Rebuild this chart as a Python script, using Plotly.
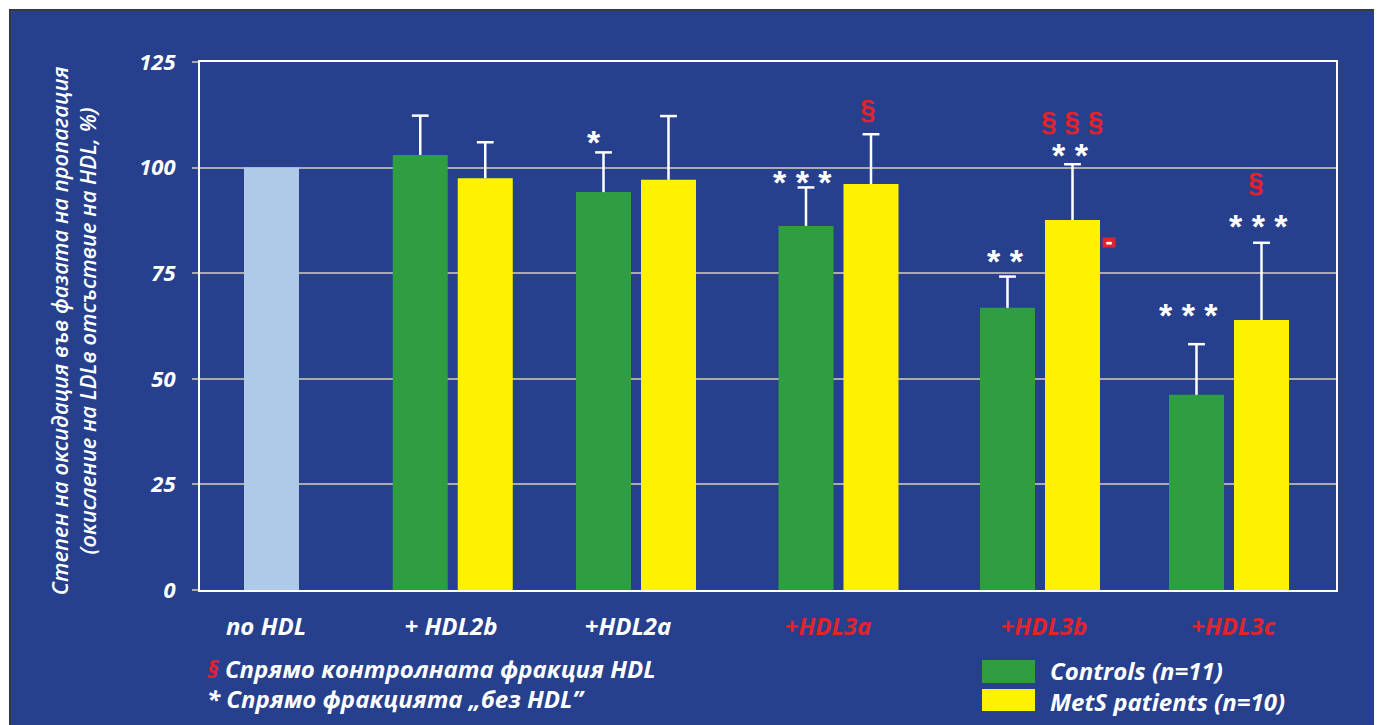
import plotly.graph_objects as go

# ---- data ----
categories = ["no HDL", "+ HDL2b", "+HDL2a", "+HDL3a", "+HDL3b", "+HDL3c"]
no_hdl_value = 100
controls_mean = [103.0, 94.2, 86.2, 66.8, 46.2]
controls_err = [9.3, 9.4, 9.1, 7.4, 12.0]
mets_mean = [97.5, 97.1, 96.1, 87.6, 63.9]
mets_err = [8.5, 15.1, 11.8, 13.2, 18.3]
y_ticks = [0, 25, 50, 75, 100, 125]

# significance marks per HDL fraction (controls / MetS / vs control fraction)
marks_controls = ["", "*", "* * *", "* *", "* * *"]
marks_mets = ["", "", "", "* *", "* * *"]
marks_section = ["", "", "§", "§ § §", "§"]

# ---- layout (positions / styles) ----
group_pos = [71.5, 252.75, 436.0, 638.5, 840.0, 1029.0]   # x positions on pixel-like axis
label_pos = [66.0, 251.0, 428.0, 628.0, 844.0, 1033.0]
pair_off = 32.5
bar_w = 55
BLUE = "#26408E"
GREEN = "#2F9E41"
YELLOW = "#FFF200"
LIGHT = "#AECAE8"
RED = "#E3232B"
GRID = "#ABABAB"
FONT = "Open Sans"
PAGE = 8  # browser body margin

ctrl_x = [p - pair_off for p in group_pos[1:]]
mets_x = [p + pair_off for p in group_pos[1:]]

fig = go.Figure()
fig.add_trace(go.Bar(x=[group_pos[0]], y=[no_hdl_value], width=bar_w,
                     marker=dict(color=LIGHT, line=dict(width=0)), showlegend=False))
fig.add_trace(go.Bar(x=ctrl_x, y=controls_mean, width=bar_w, name="Controls (n=11)",
                     marker=dict(color=GREEN, line=dict(width=0)), showlegend=False))
fig.add_trace(go.Bar(x=mets_x, y=mets_mean, width=bar_w, name="MetS patients (n=10)",
                     marker=dict(color=YELLOW, line=dict(width=0)), showlegend=False))

# one-sided error bars: stems (no caps) + top caps
for xs, means, errs in [(ctrl_x, controls_mean, controls_err), (mets_x, mets_mean, mets_err)]:
    fig.add_trace(go.Scatter(x=xs, y=means, mode="markers",
                             marker=dict(size=1, color="rgba(0,0,0,0)"),
                             error_y=dict(type="data", symmetric=False, array=errs,
                                          arrayminus=[0] * len(errs), color="white",
                                          thickness=2.5, width=0),
                             showlegend=False, hoverinfo="skip"))
    fig.add_trace(go.Scatter(x=xs, y=[m + e for m, e in zip(means, errs)], mode="markers",
                             marker=dict(symbol="line-ew", size=12,
                                         line=dict(color="white", width=2.5)),
                             showlegend=False, hoverinfo="skip"))

red_groups = {3, 4, 5}
ticktext = [f"<span style='color:{RED}'>{c}</span>" if i in red_groups else c
            for i, c in enumerate(categories)]

fig.update_layout(
    width=1382 - PAGE, height=725 - PAGE,
    margin=dict(l=200 - PAGE, r=46, t=62 - PAGE, b=135),
    paper_bgcolor="white",
    plot_bgcolor="rgba(0,0,0,0)",
    barmode="overlay",
    font=dict(family=FONT, color="white"),
    xaxis=dict(range=[0, 1136], tickvals=label_pos, ticktext=ticktext,
               showgrid=False, zeroline=False, showline=True, linecolor="white",
               linewidth=2, mirror=True, ticks="outside", ticklen=14,
               tickcolor="rgba(0,0,0,0)",
               tickfont=dict(family=FONT, size=24, color="white", style="italic", weight="bold")),
    yaxis=dict(range=[0, 125], tickvals=y_ticks, showgrid=True, gridcolor=GRID,
               gridwidth=2, zeroline=False, showline=True, linecolor="white",
               linewidth=2, mirror=True, ticks="outside", ticklen=6, tickwidth=2,
               tickcolor=GRID, ticklabelstandoff=12,
               tickfont=dict(family=FONT, size=22, color="white", style="italic", weight="bold")),
)

# outer blue panel
fig.add_shape(type="rect", xref="paper", yref="paper", layer="below",
              x0=(10 - 200) / 1136, x1=1.06, y0=-0.27, y1=(590 - 10) / 528,
              fillcolor=BLUE, line=dict(color="#3A3A3A", width=2))

# y-axis title
fig.add_annotation(xref="paper", yref="paper", x=(73 - 200) / 1136, y=0.49,
                   text="Степен на оксидация във фазата на пропагация<br>(окисление на LDLв отсъствие на HDL, %)",
                   textangle=-90, showarrow=False, xanchor="center", yanchor="middle",
                   font=dict(family=FONT, size=22, color="white", style="italic", weight=600))

# significance marks
star_font = dict(family="Liberation Sans", size=34, color="white", weight="bold")
sec_font = dict(family="Liberation Sans", size=28, color=RED, weight="bold")
ctrl_star_y = [None, 106.1, 96.5, 78.0, 65.1]
ctrl_star_dx = [0, -10, -4, -2, -8]
mets_star_y = [None, None, None, 103.1, 86.2]
mets_star_dx = [0, 0, 0, -2, -3]
sec_y = [None, None, 113.7, 110.9, 96.5]
sec_dx = [0, 0, -3, -1, -6]
for i in range(5):
    if marks_controls[i]:
        fig.add_annotation(x=ctrl_x[i] + ctrl_star_dx[i], y=ctrl_star_y[i], text=marks_controls[i],
                           showarrow=False, font=star_font)
    if marks_mets[i]:
        fig.add_annotation(x=mets_x[i] + mets_star_dx[i], y=mets_star_y[i], text=marks_mets[i],
                           showarrow=False, font=star_font)
    if marks_section[i]:
        fig.add_annotation(x=mets_x[i] + sec_dx[i], y=sec_y[i], text=marks_section[i],
                           showarrow=False, font=sec_font)

# small red mark next to HDL3b MetS bar
fig.add_annotation(x=mets_x[3] + 36, y=82.2, text="▬", showarrow=False,
                   font=dict(family="DejaVu Sans", size=7, color="white"),
                   bgcolor=RED, borderpad=1, width=10, height=7)

# footnotes
fn_font = dict(family=FONT, size=24, color="white", style="italic", weight="bold")
fig.add_annotation(xref="paper", yref="paper", x=(205 - 200) / 1136, y=(590 - 668) / 528,
                   xanchor="left", yanchor="middle", showarrow=False,
                   text=f"<span style='color:{RED}'>§</span> Спрямо контролната фракция HDL",
                   font=fn_font)
fig.add_annotation(xref="paper", yref="paper", x=(205 - 200) / 1136, y=(590 - 698) / 528,
                   xanchor="left", yanchor="middle", showarrow=False,
                   text="* Спрямо фракцията „без HDL”", font=fn_font)

# manual legend
legend_items = [("Controls (n=11)", GREEN, 660, 683, 670.5),
                ("MetS patients (n=10)", YELLOW, 689, 711, 701)]
for name, col, ytop, ybot, ymid in legend_items:
    fig.add_shape(type="rect", xref="paper", yref="paper",
                  x0=782 / 1136, x1=835 / 1136,
                  y0=(590 - ybot) / 528, y1=(590 - ytop) / 528,
                  fillcolor=col, line=dict(width=0))
    fig.add_annotation(xref="paper", yref="paper", x=848 / 1136, y=(590 - ymid) / 528,
                       xanchor="left", yanchor="middle", showarrow=False, text=name,
                       font=fn_font, height=29)

fig.write_html("out.html")
